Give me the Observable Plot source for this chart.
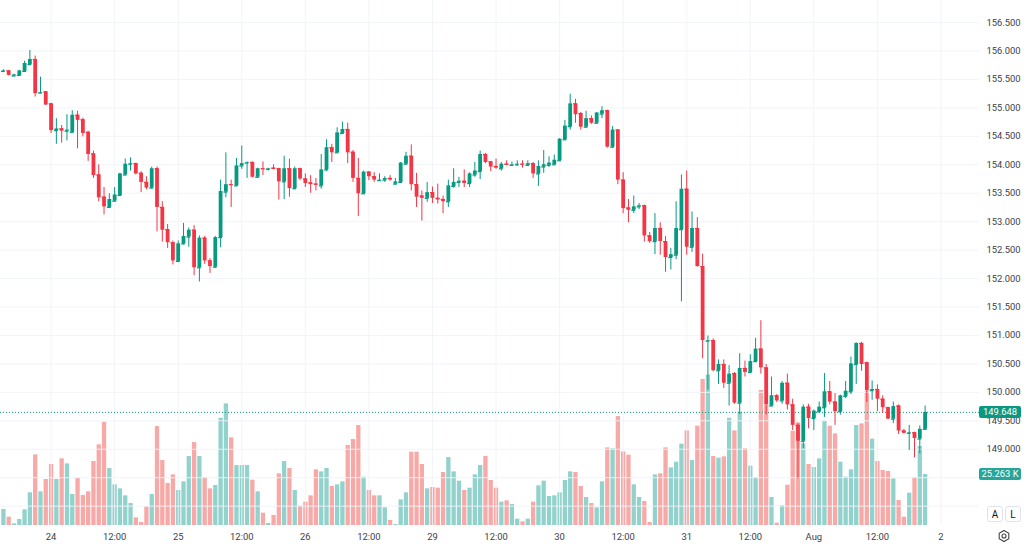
<!DOCTYPE html>
<html><head><meta charset="utf-8">
<script src="https://cdn.jsdelivr.net/npm/d3@7"></script>
<script src="https://cdn.jsdelivr.net/npm/@observablehq/plot@0.6"></script>
<style>
body{margin:0;background:#fff;font-family:Roboto,"DejaVu Sans",sans-serif;}
#chart{position:relative;width:1024px;height:545px;overflow:hidden;background:#fff;}
#chart svg.layer{position:absolute;left:0;top:0;}
.btn{position:absolute;width:14px;height:14px;border:1px solid #e0e3eb;border-radius:3px;font:10px Roboto,sans-serif;color:#131722;display:flex;align-items:center;justify-content:center;background:#fff;}
</style></head><body>
<div id="chart"></div>
<script>
// ---- data (USD/JPY-like hourly candles, 23 Jul 15:00 .. 1 Aug 21:00) ----
const open = [155.64,155.65,155.56,155.57,155.64,155.76,155.85,155.26,155.28,155.07,
154.60,154.63,154.59,154.57,154.87,154.79,154.57,154.19,153.82,153.43,
153.25,153.36,153.46,153.82,154.01,154.02,153.85,153.69,153.59,153.93,
153.25,152.86,152.63,152.30,152.61,152.73,152.85,152.19,152.71,152.31,
152.20,152.72,153.52,153.65,153.63,153.98,154.03,154.04,153.78,153.93,
153.92,153.94,153.93,153.70,153.93,153.58,153.93,153.75,153.68,153.66,
153.63,153.91,154.30,154.21,154.55,154.62,154.22,153.76,153.49,153.87,
153.79,153.72,153.73,153.76,153.66,153.69,154.01,154.15,153.65,153.45,
153.41,153.51,153.41,153.39,153.35,153.62,153.69,153.71,153.67,153.82,
153.88,154.18,154.05,153.97,153.93,154.01,153.99,154.00,154.01,153.99,
154.02,153.84,153.96,153.99,154.00,154.07,154.44,154.67,155.07,154.90,
154.66,154.81,154.73,154.89,154.95,154.31,154.61,153.73,153.24,153.20,
153.26,153.28,152.75,152.65,152.88,152.65,152.37,152.41,152.86,153.57,
152.55,152.88,152.21,150.90,150.91,150.38,150.49,150.16,150.33,149.81,
150.42,150.35,150.54,150.76,150.43,149.76,149.94,149.85,150.16,149.78,
149.42,149.14,149.74,149.54,149.66,149.73,150.01,149.83,149.66,149.93,
150.01,150.49,150.86,150.52,150.03,150.05,149.88,149.73,149.53,149.76,
149.32,149.28,149.29,149.18,149.35];
const high = [155.67,155.66,155.59,155.66,155.82,156.01,155.91,155.54,155.29,155.08,
154.81,154.69,154.88,154.95,154.94,154.82,154.59,154.24,154.00,153.60,
153.49,153.60,153.85,154.10,154.12,154.03,153.88,153.79,153.96,153.96,
153.35,152.95,152.66,152.66,152.97,152.89,152.93,152.75,152.74,152.35,
152.74,153.73,154.21,153.73,154.11,154.33,154.05,154.05,153.94,154.05,
153.94,154.00,153.94,154.15,154.10,153.96,153.94,153.84,153.81,153.76,
154.18,154.44,154.36,154.65,154.75,154.73,154.25,154.11,153.89,153.88,
153.86,153.84,153.79,153.81,153.76,154.04,154.22,154.35,153.85,153.54,
153.69,153.61,153.66,153.45,153.73,153.93,153.78,153.91,153.86,154.04,
154.24,154.20,154.06,154.10,154.04,154.07,154.05,154.07,154.07,154.07,
154.04,154.07,154.25,154.14,154.17,154.46,154.78,155.24,155.15,154.92,
154.94,154.86,154.92,155.02,154.96,154.67,154.62,153.86,153.39,153.45,
153.32,153.29,152.81,153.14,152.98,152.74,152.53,153.35,153.82,153.89,
153.17,153.07,152.43,150.99,150.94,150.57,150.57,150.47,150.35,150.68,
150.55,150.66,150.95,151.26,150.49,150.27,149.96,150.19,150.32,149.88,
149.45,149.78,149.79,149.69,149.83,150.33,150.19,149.98,149.95,150.19,
150.62,150.87,150.88,150.53,150.20,150.13,149.94,149.74,149.83,149.78,
149.35,149.42,149.30,149.41,149.76];
const low = [155.62,155.56,155.55,155.56,155.63,155.75,155.19,155.25,155.04,154.55,
154.36,154.38,154.42,154.55,154.28,154.49,154.06,153.76,153.35,153.12,
153.24,153.35,153.45,153.81,153.89,153.82,153.51,153.56,153.58,152.82,
152.64,152.53,152.24,152.29,152.59,152.55,152.05,151.94,152.25,152.09,
152.18,152.54,153.42,153.25,153.62,153.92,153.76,153.77,153.77,153.81,
153.89,153.91,153.38,153.39,153.43,153.56,153.72,153.60,153.50,153.54,
153.57,153.88,154.04,154.20,154.54,154.02,153.69,153.09,153.48,153.72,
153.69,153.71,153.69,153.71,153.65,153.67,154.00,153.54,153.25,153.01,
153.34,153.32,153.31,153.14,153.25,153.59,153.60,153.60,153.60,153.78,
153.74,154.02,153.88,153.92,153.89,153.98,153.97,153.97,153.94,153.98,
153.76,153.62,153.85,153.95,153.99,154.06,154.42,154.61,154.73,154.61,
154.65,154.71,154.72,154.81,154.29,154.29,153.65,153.14,152.98,153.14,
153.21,152.64,152.62,152.42,152.41,152.11,152.15,152.33,151.59,152.41,
152.46,152.20,150.59,150.04,150.36,150.14,150.07,149.76,149.79,149.61,
150.27,150.33,150.53,150.32,149.60,149.75,149.82,149.79,149.69,149.33,
148.48,149.01,149.36,149.33,149.63,149.56,149.78,149.42,149.60,149.89,
149.96,150.14,150.37,149.82,149.86,149.66,149.63,149.52,149.45,149.26,
149.27,148.98,148.85,148.92,149.34];
const close = [155.65,155.57,155.58,155.65,155.78,155.85,155.25,155.27,155.05,154.60,
154.63,154.59,154.61,154.87,154.78,154.55,154.18,153.81,153.42,153.26,
153.39,153.47,153.84,154.01,154.02,153.84,153.69,153.59,153.93,153.25,
152.85,152.63,152.31,152.61,152.74,152.85,152.19,152.71,152.31,152.21,
152.72,153.53,153.65,153.64,153.98,154.02,154.04,153.78,153.93,153.92,
153.93,153.92,153.70,153.93,153.58,153.93,153.75,153.67,153.65,153.64,
153.91,154.30,154.21,154.56,154.62,154.21,153.76,153.49,153.87,153.79,
153.73,153.73,153.76,153.73,153.70,154.03,154.15,153.65,153.43,153.41,
153.51,153.41,153.38,153.35,153.63,153.69,153.71,153.67,153.84,153.89,
154.18,154.04,153.96,153.94,154.01,153.99,154.00,154.01,154.00,154.02,
153.84,153.97,154.00,154.03,154.08,154.45,154.68,155.07,154.88,154.66,
154.81,154.73,154.91,154.95,154.31,154.61,153.73,153.23,153.20,153.26,
153.28,152.75,152.65,152.88,152.65,152.37,152.42,152.88,153.57,152.55,
152.88,152.21,150.91,150.91,150.38,150.49,150.16,150.32,149.81,150.42,
150.35,150.54,150.76,150.43,149.78,149.94,149.85,150.16,149.78,149.42,
149.14,149.74,149.54,149.67,149.74,150.01,149.83,149.66,149.94,150.02,
150.50,150.86,150.49,150.03,150.05,149.88,149.73,149.53,149.75,149.32,
149.28,149.29,149.19,149.35,149.648];
const volume = [7920,4125,825,2970,7755,16170,34980,16665,22770,30195,
22770,33000,30525,15345,23265,14850,16665,31680,39930,51150,
28215,20130,18150,14685,10890,3795,1485,9240,15345,49005,
32175,20790,25080,17325,21615,34155,41085,34155,23760,18150,
19800,53130,60225,43395,29700,29700,29700,22440,16665,6105,
990,4950,25575,31680,28215,17325,9570,11550,14685,27555,
26565,28215,19305,20130,21615,39600,42570,49500,23925,17325,
14685,14685,8745,2475,495,12705,16170,36300,36300,30195,
18150,18810,18480,26235,33660,26565,21945,17325,18480,25080,
29700,34155,22275,18480,11550,12210,10395,3135,1815,3135,
11550,19635,21945,14355,14685,16170,22275,26565,26235,19305,
13860,10890,8745,21615,38445,37950,53955,36465,34815,20130,
13860,11880,1485,25080,25575,38445,28545,31350,40260,46860,
32175,49170,72270,74580,34155,33330,33990,53130,46860,56100,
37950,29370,23595,66825,59400,13860,1155,9735,19965,46695,
50820,40425,30195,28710,33000,51645,49170,45375,31350,23925,
27555,49500,50325,66495,42735,31680,27225,26730,23100,12375,
4125,16005,23760,39105,25263];

const days = ["2024-07-23","2024-07-24","2024-07-25","2024-07-26","2024-07-29","2024-07-30","2024-07-31","2024-08-01","2024-08-02"];
const firstCandle = "2024-07-23 15:00";
const tickTimes = ["2024-07-24 00:00","2024-07-24 12:00","2024-07-25 00:00","2024-07-25 12:00","2024-07-26 00:00","2024-07-26 12:00","2024-07-29 00:00","2024-07-29 12:00","2024-07-30 00:00","2024-07-30 12:00","2024-07-31 00:00","2024-07-31 12:00","2024-08-01 00:00","2024-08-01 12:00","2024-08-02 00:00"];
const tickLabels = ["24","12:00","25","12:00","26","12:00","29","12:00","30","12:00","31","12:00","Aug","12:00","2"];
const priceTicks = [149,149.5,150,150.5,151,151.5,152,152.5,153,153.5,154,154.5,155,155.5,156,156.5];
const gridPrices = [148,148.5,149,149.5,150,150.5,151,151.5,152,152.5,153,153.5,154,154.5,155,155.5,156,156.5];

// ---- build ----
const UP = "#089981", DOWN = "#f23645", VUP = "#26a69a", VDOWN = "#ef5350", GRID = "#f0f3fa";
const W = 1024, H = 545, MR = 45, MB = 20;
const slots = days.flatMap(d => d3.range(24).map(h => `${d} ${String(h).padStart(2,"0")}:00`));
const first = slots.indexOf(firstCandle);
const rows = open.map((o, i) => ({
  i, time: slots[first + i], o, h: high[i], l: low[i], c: close[i], v: volume[i], up: close[i] >= o
}));
const tickIdx = tickTimes.map(t => slots.indexOf(t) - first);
const labelOf = new Map(tickIdx.map((k, j) => [k, tickLabels[j]]));
const xDomain = [-0.5475, 184.27];
const yDomain = [147.66, 156.887];
const col = d => d.up ? UP : DOWN;
const lastClose = close[close.length - 1];
const lastVol = volume[volume.length - 1];

const volChart = Plot.plot({
  width: W, height: H, marginLeft: 0, marginRight: MR, marginTop: 0, marginBottom: MB,
  x: {domain: xDomain, axis: null},
  y: {domain: [0, 260000], axis: null},
  style: {background: "transparent"},
  marks: [
    Plot.ruleX(rows, {x: "i", y1: 0, y2: "v", stroke: d => d.up ? VUP : VDOWN, strokeOpacity: 0.5, strokeWidth: 4.3})
  ]
});
volChart.classList.add("layer");

const priceChart = Plot.plot({
  width: W, height: H, marginLeft: 0, marginRight: MR, marginTop: 0, marginBottom: MB,
  x: {domain: xDomain, ticks: tickIdx, tickFormat: d => labelOf.get(d), tickSize: 0, tickPadding: 8, label: null},
  y: {domain: yDomain, axis: "right", ticks: priceTicks, tickFormat: d => d.toFixed(3), tickSize: 0, tickPadding: 7, label: null},
  style: {background: "transparent", fontFamily: "Roboto, sans-serif", fontSize: "9.4px", color: "#3a3e4a"},
  marks: [
    Plot.ruleY(gridPrices, {stroke: GRID, strokeOpacity: 0.9}),
    Plot.ruleX(tickIdx, {stroke: GRID, strokeOpacity: 0.9}),
    Plot.ruleY([lastClose], {stroke: UP, strokeDasharray: "1,2", strokeWidth: 1}),
    Plot.ruleX(rows, {x: "i", y1: "l", y2: "h", stroke: col, strokeWidth: 1}),
    Plot.ruleX(rows, {x: "i", y1: "o", y2: "c", stroke: col, strokeWidth: 3.8}),
    Plot.ruleY(rows, {y: "o", x1: d => d.i - 0.36, x2: d => d.i + 0.36, stroke: col, strokeWidth: 1.2})
  ]
});
priceChart.classList.add("layer");

// price & volume labels on the right axis
const svg = d3.select(priceChart);
const axisX0 = W - MR;
function tag(yPix, fill, text) {
  svg.append("rect").attr("x", axisX0).attr("y", yPix - 6).attr("width", 42).attr("height", 12)
    .attr("rx", 2).attr("fill", fill);
  svg.append("text").attr("x", axisX0 + 21).attr("y", yPix).attr("dy", "0.34em")
    .attr("text-anchor", "middle").attr("fill", "#fff")
    .style("font", "9.4px Roboto, sans-serif").text(text);
}
tag(priceChart.scale("y").apply(lastClose), UP, lastClose.toFixed(3));
tag(volChart.scale("y").apply(lastVol), VUP, (lastVol / 1000).toFixed(3) + " K");

const chart = document.getElementById("chart");
chart.append(volChart, priceChart);

// UI buttons & settings icon
for (const [t, left] of [["A", 987], ["L", 1005]]) {
  const b = document.createElement("div");
  b.className = "btn"; b.textContent = t;
  b.style.left = left + "px"; b.style.top = "506px";
  chart.append(b);
}
const gear = d3.create("svg").attr("width", 14).attr("height", 14)
  .style("position", "absolute").style("left", "997px").style("top", "529px");
gear.append("path").attr("d", "M7 1.5 L11.8 4.25 L11.8 9.75 L7 12.5 L2.2 9.75 L2.2 4.25 Z")
  .attr("fill", "none").attr("stroke", "#444").attr("stroke-width", 1.1);
gear.append("circle").attr("cx", 7).attr("cy", 7).attr("r", 2).attr("fill", "none").attr("stroke", "#444").attr("stroke-width", 1.1);
chart.append(gear.node());
</script>
</body></html>
